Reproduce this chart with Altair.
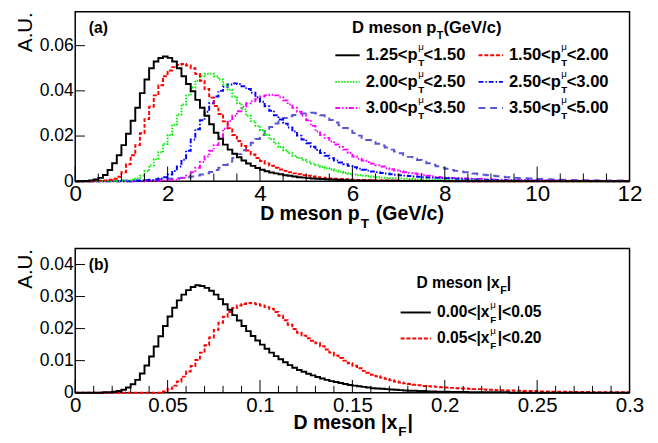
import altair as alt
import pandas as pd

FONT = "Liberation Sans"

# ---------------- panel (a): D meson pT, bins of 0.1 GeV/c from 0 to 12 ----------------
PT_BIN = 0.1
PT_LO = ["1.25", "1.50", "2.00", "2.50", "3.00", "3.50"]
PT_HI = ["1.50", "2.00", "2.50", "3.00", "3.50", "5.00"]
PT_COLORS = ["#000000", "#ff0000", "#00ee00", "#0000ff", "#ff00ff", "#5954d8"]
PT_DASHES = [None, [4, 2], [1.5, 1.5], [5, 2, 1.5, 2], [5, 2, 1.5, 2, 1.5, 2], [7, 5]]

pt_125_150 = [
    0, 0, 0.0001, 0.0003, 0.0008, 0.0015, 0.0028, 0.0050, 0.0080, 0.0115,
    0.0160, 0.0210, 0.0268, 0.0325, 0.0390, 0.0450, 0.0500, 0.0530, 0.0545, 0.0552,
    0.0546, 0.0530, 0.0500, 0.0465, 0.0430, 0.0398, 0.0360, 0.0325, 0.0290, 0.0252,
    0.0215, 0.0188, 0.0162, 0.0140, 0.0122, 0.0106, 0.0092, 0.0079, 0.0068, 0.0059,
    0.0051, 0.0044, 0.0039, 0.0035, 0.0031, 0.0027, 0.0024, 0.0021, 0.0018, 0.0016,
    0.0014, 0.0012, 0.0011, 0.0010, 0.0009, 0.0008, 0.0007, 0.0006, 0.0005, 0.0005,
    0.0004, 0.0004, 0.0003, 0.0003, 0.0003, 0.0002, 0.0002, 0.0002, 0.0002, 0.0002,
    0.0001, 0.0001, 0.0001, 0.0001, 0.0001, 0.0001, 0.0001, 0.0001, 0.0001, 0.0001,
    0, 0, 0, 0, 0, 0, 0, 0, 0, 0,
    0, 0, 0, 0, 0, 0, 0, 0, 0, 0,
    0, 0, 0, 0, 0, 0, 0, 0, 0, 0,
    0, 0, 0, 0, 0, 0, 0, 0, 0, 0,
]
pt_150_200 = [
    0, 0, 0, 0, 0.0001, 0.0002, 0.0004, 0.0007, 0.0011, 0.0020,
    0.0040, 0.0075, 0.0115, 0.0160, 0.0212, 0.0275, 0.0330, 0.0380, 0.0425, 0.0465,
    0.0490, 0.0505, 0.0515, 0.0519, 0.0512, 0.0500, 0.0475, 0.0445, 0.0408, 0.0370,
    0.0333, 0.0298, 0.0265, 0.0235, 0.0205, 0.0178, 0.0156, 0.0136, 0.0118, 0.0103,
    0.0090, 0.0079, 0.0069, 0.0060, 0.0052, 0.0046, 0.0040, 0.0035, 0.0031, 0.0027,
    0.0024, 0.0021, 0.0018, 0.0016, 0.0014, 0.0012, 0.0011, 0.0010, 0.0009, 0.0008,
    0.0007, 0.0006, 0.0006, 0.0005, 0.0005, 0.0004, 0.0004, 0.0003, 0.0003, 0.0003,
    0.0002, 0.0002, 0.0002, 0.0002, 0.0002, 0.0001, 0.0001, 0.0001, 0.0001, 0.0001,
    0.0001, 0.0001, 0.0001, 0.0001, 0.0001, 0, 0, 0, 0, 0,
    0, 0, 0, 0, 0, 0, 0, 0, 0, 0,
    0, 0, 0, 0, 0, 0, 0, 0, 0, 0,
    0, 0, 0, 0, 0, 0, 0, 0, 0, 0,
]
pt_200_250 = [
    0, 0, 0, 0, 0, 0, 0, 0, 0, 0.0001,
    0.0002, 0.0004, 0.0007, 0.0012, 0.0025, 0.0045, 0.0070, 0.0098, 0.0128, 0.0165,
    0.0205, 0.0250, 0.0295, 0.0340, 0.0380, 0.0415, 0.0445, 0.0465, 0.0476, 0.0476,
    0.0465, 0.0450, 0.0428, 0.0405, 0.0375, 0.0345, 0.0318, 0.0290, 0.0266, 0.0245,
    0.0226, 0.0206, 0.0186, 0.0167, 0.0151, 0.0137, 0.0124, 0.0113, 0.0103, 0.0094,
    0.0086, 0.0078, 0.0071, 0.0064, 0.0058, 0.0052, 0.0047, 0.0042, 0.0037, 0.0033,
    0.0030, 0.0027, 0.0024, 0.0022, 0.0020, 0.0018, 0.0016, 0.0015, 0.0014, 0.0013,
    0.0012, 0.0011, 0.0010, 0.0009, 0.0008, 0.0007, 0.0007, 0.0006, 0.0006, 0.0005,
    0.0005, 0.0004, 0.0004, 0.0004, 0.0003, 0.0003, 0.0003, 0.0003, 0.0002, 0.0002,
    0.0002, 0.0002, 0.0002, 0.0002, 0.0002, 0.0001, 0.0001, 0.0001, 0.0001, 0.0001,
    0.0001, 0.0001, 0.0001, 0.0001, 0.0001, 0, 0, 0, 0, 0,
    0, 0, 0, 0, 0, 0, 0, 0, 0, 0,
]
pt_250_300 = [
    0, 0, 0, 0, 0, 0, 0, 0, 0, 0,
    0, 0, 0.0001, 0.0002, 0.0003, 0.0004, 0.0006, 0.0008, 0.0012, 0.0018,
    0.0030, 0.0045, 0.0065, 0.0095, 0.0135, 0.0185, 0.0230, 0.0270, 0.0308, 0.0345,
    0.0375, 0.0400, 0.0418, 0.0428, 0.0433, 0.0430, 0.0420, 0.0408, 0.0392, 0.0372,
    0.0352, 0.0332, 0.0312, 0.0292, 0.0273, 0.0255, 0.0238, 0.0220, 0.0202, 0.0185,
    0.0168, 0.0153, 0.0138, 0.0125, 0.0113, 0.0102, 0.0092, 0.0083, 0.0075, 0.0068,
    0.0062, 0.0056, 0.0051, 0.0047, 0.0043, 0.0040, 0.0037, 0.0034, 0.0031, 0.0029,
    0.0027, 0.0025, 0.0023, 0.0021, 0.0020, 0.0018, 0.0017, 0.0016, 0.0015, 0.0014,
    0.0013, 0.0012, 0.0011, 0.0010, 0.0009, 0.0009, 0.0008, 0.0007, 0.0007, 0.0006,
    0.0006, 0.0005, 0.0005, 0.0004, 0.0004, 0.0004, 0.0003, 0.0003, 0.0003, 0.0003,
    0.0002, 0.0002, 0.0002, 0.0002, 0.0002, 0.0002, 0.0001, 0.0001, 0.0001, 0.0001,
    0.0001, 0.0001, 0.0001, 0.0001, 0.0001, 0, 0, 0, 0, 0,
]
pt_300_350 = [
    0, 0, 0, 0, 0, 0, 0, 0, 0, 0,
    0, 0, 0, 0, 0, 0.0001, 0.0002, 0.0002, 0.0003, 0.0004,
    0.0005, 0.0007, 0.0010, 0.0015, 0.0025, 0.0040, 0.0060, 0.0085, 0.0110, 0.0135,
    0.0160, 0.0195, 0.0232, 0.0268, 0.0290, 0.0310, 0.0330, 0.0345, 0.0354, 0.0365,
    0.0375, 0.0380, 0.0383, 0.0380, 0.0372, 0.0358, 0.0340, 0.0325, 0.0308, 0.0290,
    0.0270, 0.0245, 0.0220, 0.0205, 0.0192, 0.0176, 0.0163, 0.0152, 0.0140, 0.0125,
    0.0110, 0.0100, 0.0092, 0.0085, 0.0078, 0.0071, 0.0065, 0.0058, 0.0053, 0.0048,
    0.0044, 0.0040, 0.0037, 0.0034, 0.0031, 0.0028, 0.0025, 0.0022, 0.0019, 0.0017,
    0.0016, 0.0015, 0.0014, 0.0013, 0.0012, 0.0011, 0.0010, 0.0010, 0.0009, 0.0008,
    0.0008, 0.0007, 0.0007, 0.0006, 0.0006, 0.0005, 0.0005, 0.0005, 0.0004, 0.0004,
    0.0004, 0.0003, 0.0003, 0.0003, 0.0003, 0.0002, 0.0002, 0.0002, 0.0002, 0.0002,
    0.0002, 0.0002, 0.0001, 0.0001, 0.0001, 0.0001, 0.0001, 0.0001, 0.0001, 0.0001,
]
pt_350_500 = [
    0, 0, 0, 0, 0, 0.0001, 0.0001, 0.0002, 0.0002, 0.0003,
    0.0003, 0.0004, 0.0004, 0.0005, 0.0005, 0.0006, 0.0007, 0.0008, 0.0009, 0.0010,
    0.0011, 0.0012, 0.0014, 0.0016, 0.0018, 0.0021, 0.0025, 0.0030, 0.0035, 0.0041,
    0.0050, 0.0060, 0.0072, 0.0087, 0.0103, 0.0120, 0.0137, 0.0153, 0.0170, 0.0187,
    0.0205, 0.0222, 0.0240, 0.0256, 0.0270, 0.0280, 0.0288, 0.0293, 0.0297, 0.0300,
    0.0302, 0.0303, 0.0300, 0.0292, 0.0282, 0.0271, 0.0260, 0.0248, 0.0236, 0.0224,
    0.0213, 0.0202, 0.0192, 0.0183, 0.0174, 0.0166, 0.0158, 0.0149, 0.0140, 0.0132,
    0.0124, 0.0116, 0.0108, 0.0101, 0.0094, 0.0087, 0.0080, 0.0073, 0.0066, 0.0060,
    0.0055, 0.0050, 0.0046, 0.0043, 0.0040, 0.0037, 0.0034, 0.0031, 0.0029, 0.0027,
    0.0024, 0.0022, 0.0020, 0.0018, 0.0017, 0.0015, 0.0014, 0.0013, 0.0012, 0.0011,
    0.0010, 0.0009, 0.0009, 0.0008, 0.0008, 0.0007, 0.0007, 0.0006, 0.0006, 0.0006,
    0.0005, 0.0005, 0.0005, 0.0004, 0.0004, 0.0004, 0.0003, 0.0003, 0.0003, 0.0003,
]
PT_SERIES = [pt_125_150, pt_150_200, pt_200_250, pt_250_300, pt_300_350, pt_350_500]

PT_MAJOR = [0, 2, 4, 6, 8, 10, 12]
PT_MINOR = [0.5, 1, 1.5, 2.5, 3, 3.5, 4.5, 5, 5.5, 6.5, 7, 7.5, 8.5, 9, 9.5, 10.5, 11, 11.5]
A_YTICKS = [0, 0.02, 0.04, 0.06]

# ---------------- panel (b): D meson |xF|, bins of 0.0025 from 0 to 0.3 ----------------
XF_BIN = 0.0025
XF_LO = ["0.00", "0.05"]
XF_HI = ["0.05", "0.20"]
XF_COLORS = ["#000000", "#ff0000"]
XF_DASHES = [None, [4, 2]]

xf_000_005 = [
    0, 0, 0, 0, 0, 0, 0.0001, 0.0001, 0.0003, 0.0005,
    0.0009, 0.0016, 0.0026, 0.0040, 0.0060, 0.0085, 0.0113, 0.0144, 0.0176, 0.0208,
    0.0238, 0.0265, 0.0288, 0.0306, 0.0320, 0.0330, 0.0335, 0.0333, 0.0327, 0.0318,
    0.0306, 0.0292, 0.0276, 0.0259, 0.0242, 0.0225, 0.0208, 0.0192, 0.0177, 0.0163,
    0.0150, 0.0137, 0.0125, 0.0114, 0.0104, 0.0095, 0.0086, 0.0078, 0.0071, 0.0065,
    0.0059, 0.0054, 0.0049, 0.0044, 0.0040, 0.0036, 0.0033, 0.0030, 0.0027, 0.0024,
    0.0022, 0.0020, 0.0018, 0.0016, 0.0014, 0.0013, 0.0012, 0.0011, 0.0010, 0.0009,
    0.0008, 0.0007, 0.0006, 0.0006, 0.0005, 0.0005, 0.0004, 0.0004, 0.0003, 0.0003,
    0.0003, 0.0002, 0.0002, 0.0002, 0.0002, 0.0001, 0.0001, 0.0001, 0.0001, 0.0001,
    0.0001, 0.0001, 0.0001, 0.0001, 0, 0, 0, 0, 0, 0,
    0, 0, 0, 0, 0, 0, 0, 0, 0, 0,
    0, 0, 0, 0, 0, 0, 0, 0, 0, 0,
]
xf_005_020 = [
    0, 0, 0, 0, 0, 0, 0, 0, 0, 0,
    0, 0, 0, 0, 0, 0, 0, 0, 0, 0.0004,
    0.0012, 0.0022, 0.0035, 0.0050, 0.0066, 0.0083, 0.0102, 0.0125, 0.0148, 0.0172,
    0.0196, 0.0218, 0.0237, 0.0252, 0.0264, 0.0272, 0.0277, 0.0280, 0.0279, 0.0276,
    0.0272, 0.0267, 0.0262, 0.0252, 0.0240, 0.0226, 0.0212, 0.0199, 0.0187, 0.0178,
    0.0170, 0.0162, 0.0154, 0.0145, 0.0135, 0.0125, 0.0116, 0.0108, 0.0100, 0.0092,
    0.0084, 0.0076, 0.0068, 0.0062, 0.0056, 0.0051, 0.0047, 0.0043, 0.0039, 0.0035,
    0.0032, 0.0029, 0.0027, 0.0025, 0.0023, 0.0021, 0.0020, 0.0019, 0.0018, 0.0017,
    0.0016, 0.0015, 0.0014, 0.0013, 0.0013, 0.0012, 0.0011, 0.0011, 0.0010, 0.0009,
    0.0009, 0.0008, 0.0008, 0.0007, 0.0007, 0.0006, 0.0006, 0.0005, 0.0005, 0.0005,
    0.0004, 0.0004, 0.0004, 0.0003, 0.0003, 0.0003, 0.0003, 0.0002, 0.0002, 0.0002,
    0.0002, 0.0002, 0.0001, 0.0001, 0.0001, 0.0001, 0.0001, 0.0001, 0.0001, 0.0001,
]
XF_SERIES = [xf_000_005, xf_005_020]

XF_MAJOR = [0, 0.05, 0.1, 0.15, 0.2, 0.25, 0.3]
XF_MINOR = [0.01, 0.02, 0.03, 0.04, 0.06, 0.07, 0.08, 0.09, 0.11, 0.12, 0.13, 0.14,
            0.16, 0.17, 0.18, 0.19, 0.21, 0.22, 0.23, 0.24, 0.26, 0.27, 0.28, 0.29]
B_YTICKS = [0, 0.01, 0.02, 0.03, 0.04]

W = 569
HA = 174
HB = 148

ONE = alt.Data(values=[{"k": 0}])


def hist_df(vals, width):
    edges = [round(i * width, 6) for i in range(len(vals) + 1)]
    return pd.DataFrame({"x": edges, "y": list(vals) + [vals[-1]]})


def txt(s, x, y, size, align="left", baseline="middle", weight="bold"):
    return alt.Chart(ONE).mark_text(
        text=s, align=align, baseline=baseline, font=FONT, fontSize=size,
        fontWeight=weight, color="black"
    ).encode(x=alt.value(x), y=alt.value(y))


def sample(x1, x2, y, color, dash):
    kw = dict(color=color, strokeWidth=2)
    if dash:
        kw["strokeDash"] = dash
    return alt.Chart(ONE).mark_rule(**kw).encode(
        x=alt.value(x1), x2=alt.value(x2), y=alt.value(y))


def panel(series, colors, dashes, binw, xdom, ydom, xticks, xminor, yticks,
          height, xlabel_size, major_len, minor_len):
    xs = alt.Scale(domain=xdom, nice=False, zero=False)
    ys = alt.Scale(domain=ydom, nice=False, zero=False)
    xaxis = alt.Axis(values=xticks, format="~g", title=None, ticks=False, tickSize=0,
                     domain=False, grid=False, labelFlush=False, labelFont=FONT,
                     labelFontSize=xlabel_size, labelPadding=2, labelColor="black",
                     labelOverlap=False)
    yaxis = alt.Axis(values=yticks, format="~g", title="A.U.", ticks=False, tickSize=0,
                     domain=False, grid=False, labelFont=FONT, labelFontSize=18,
                     labelPadding=2, labelColor="black", labelOverlap=False,
                     titleFont=FONT, titleFontSize=21, titleFontWeight="normal",
                     titleAngle=270, titleAlign="right", titleBaseline="alphabetic",
                     titleX=-45, titleY=0, titleColor="black")
    X = alt.X("x:Q", scale=xs, axis=xaxis)
    Y = alt.Y("y:Q", scale=ys, axis=yaxis)
    layers = []
    for vals, col, dash in zip(series, colors, dashes):
        kw = dict(color=col, strokeWidth=2, interpolate="step-after")
        if dash:
            kw["strokeDash"] = dash
        layers.append(alt.Chart(hist_df(vals, binw)).mark_line(**kw).encode(x=X, y=Y))
    # inward ticks (ROOT style)
    layers.append(alt.Chart(pd.DataFrame({"x": xticks})).mark_rule(color="black", strokeWidth=1).encode(
        x=X, y=alt.value(height), y2=alt.value(height - major_len)))
    layers.append(alt.Chart(pd.DataFrame({"x": xminor})).mark_rule(color="black", strokeWidth=1).encode(
        x=X, y=alt.value(height), y2=alt.value(height - minor_len)))
    layers.append(alt.Chart(pd.DataFrame({"y": yticks})).mark_rule(color="black", strokeWidth=1).encode(
        y=Y, x=alt.value(0), x2=alt.value(10)))
    return layers


# ---- panel (a) ----
a_layers = panel(PT_SERIES[::-1], PT_COLORS[::-1], PT_DASHES[::-1], PT_BIN, [0, 12], [0, 0.075],
                 PT_MAJOR, PT_MINOR, A_YTICKS, HA, 23, 15, 8)
a_layers.append(txt("(a)", 14, 17, 16))
a_layers += [
    txt("D meson p", 284, 17, 17),
    txt("T", 371, 25, 11),
    txt("(GeV/c)", 378, 17, 17),
]
ROW_Y = [44.7, 72, 98.7]
COLS = [  # (line x1, line x2, end of "p", start of "<")
    (267, 292, 351.5, 357.5),
    (414, 439, 498.5, 504.5),
]
for i in range(6):
    r, c = i // 2, i % 2
    lx1, lx2, pend, lt = COLS[c]
    y = ROW_Y[r]
    a_layers += [
        sample(lx1, lx2, y, PT_COLORS[i], PT_DASHES[i]),
        txt(PT_LO[i] + "<p", pend, y, 17, align="right"),
        txt("μ", pend + 0.5, y - 8, 10, weight="normal"),
        txt("T", pend + 0.5, y + 8, 10),
        txt("<" + PT_HI[i], lt, y, 17),
    ]
a_layers += [
    txt("D meson p", 292, 214, 20, align="right", baseline="alphabetic"),
    txt("T", 293, 222, 14, baseline="alphabetic"),
    txt("(GeV/c)", 308.5, 214, 20, baseline="alphabetic"),
]
top = alt.layer(*a_layers).properties(width=W, height=HA)

# ---- panel (b) ----
b_layers = panel(XF_SERIES[::-1], XF_COLORS[::-1], XF_DASHES[::-1], XF_BIN, [0, 0.3], [0, 0.045],
                 XF_MAJOR, XF_MINOR, B_YTICKS, HB, 21, 13, 7)
b_layers.append(txt("(b)", 14, 16.7, 16))
b_layers += [
    txt("D meson |x", 350.3, 35.7, 16),
    txt("F", 436.3, 43.7, 11),
    txt("|", 443, 35.7, 16),
]
BROW_Y = [65.7, 92.3]
for i in range(2):
    y = BROW_Y[i]
    b_layers += [
        sample(334, 365, y, XF_COLORS[i], XF_DASHES[i]),
        txt(XF_LO[i] + "<|x", 425.3, y, 16, align="right"),
        txt("μ", 426, y - 8, 10, weight="normal"),
        txt("F", 426, y + 8, 10),
        txt("|<" + XF_HI[i], 433.7, y, 16),
    ]
b_layers += [
    txt("D meson |x", 224, 185, 20, baseline="alphabetic"),
    txt("F", 331.5, 192, 14, baseline="alphabetic"),
    txt("|", 341, 185, 20, baseline="alphabetic"),
]
bottom = alt.layer(*b_layers).properties(width=W, height=HB)

chart = alt.vconcat(top, bottom, spacing=69, bounds="flush").properties(
    padding={"left": 6, "top": -3, "right": 5, "bottom": 5},
    background="white",
).configure_view(stroke="black", strokeWidth=1.5)

chart.save("out.html", embed_options={"renderer": "svg", "actions": False})
